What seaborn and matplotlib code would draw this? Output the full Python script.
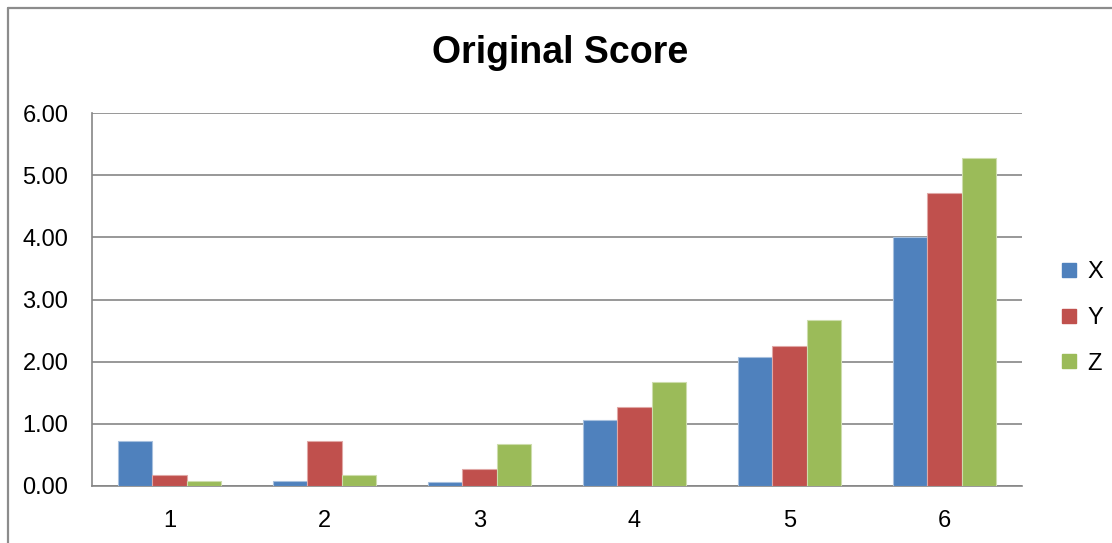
import matplotlib
matplotlib.use("Agg")
import matplotlib.pyplot as plt
from matplotlib.lines import Line2D
import seaborn as sns
import pandas as pd

categories = ["1", "2", "3", "4", "5", "6"]
series_names = ["X", "Y", "Z"]
x_values = [0.73, 0.08, 0.06, 1.06, 2.07, 4.00]
y_values = [0.18, 0.73, 0.27, 1.27, 2.26, 4.71]
z_values = [0.08, 0.18, 0.67, 1.67, 2.67, 5.28]
y_ticks = [0.0, 1.0, 2.0, 3.0, 4.0, 5.0, 6.0]
colors = ["#4F81BD", "#C0504D", "#9BBB59"]

df = pd.DataFrame({
    "category": categories * 3,
    "series": [s for s in series_names for _ in categories],
    "value": x_values + y_values + z_values,
})

sns.set_theme(style="white")
plt.rcParams["font.family"] = ["Liberation Sans", "DejaVu Sans"]
plt.rcParams["text.color"] = "black"

fig = plt.figure(figsize=(11.12, 5.43), dpi=100)
ax = fig.add_axes([92 / 1112, 1 - 486 / 543, 930 / 1112, 373 / 543])

sns.barplot(data=df, x="category", y="value", hue="series", order=categories,
            hue_order=series_names, palette=colors, width=0.67, gap=0,
            saturation=1, ax=ax, legend=False, zorder=3)

# thin light outline around each bar
for p in ax.patches:
    r, g, b, _ = p.get_facecolor()
    p.set_edgecolor((r + (1 - r) * 0.5, g + (1 - g) * 0.5, b + (1 - b) * 0.5))
    p.set_linewidth(0.8)

grid_color = "#868686"
ax.set_ylim(0, 6)
ax.set_xlim(-0.5, 5.5)
ax.set_yticks(y_ticks)
ax.set_yticklabels([f"{t:.2f}" for t in y_ticks])
ax.yaxis.grid(True, color=grid_color, linewidth=1.2, zorder=0)
ax.set_axisbelow(True)
for side in ["top", "right"]:
    ax.spines[side].set_visible(False)
for side in ["left", "bottom"]:
    ax.spines[side].set_color(grid_color)
    ax.spines[side].set_linewidth(1.2)
ax.tick_params(axis="both", length=0, labelsize=17, labelcolor="black")
ax.tick_params(axis="y", pad=17)
ax.tick_params(axis="x", pad=17)
ax.set_xlabel("")
ax.set_ylabel("")

fig.suptitle("Original Score", x=560 / 1112, y=1 - 53 / 543, va="center",
             fontsize=27, fontweight="bold", color="black")

handles = [Line2D([], [], marker="s", linestyle="none", markersize=10,
                  markerfacecolor=c, markeredgecolor=c) for c in colors]
fig.legend(handles, series_names, loc="center left",
           bbox_to_anchor=(1045 / 1112, 1 - 318 / 543), frameon=False,
           fontsize=17, handlelength=1.0, handletextpad=0.3, labelspacing=1.0,
           borderpad=0, labelcolor="black")

# outer chart frame
fig.add_artist(Line2D([7.5 / 1112, 7.5 / 1112], [0, 1 - 7.5 / 543],
                      transform=fig.transFigure, color="#8c8c8c", linewidth=1.6))
fig.add_artist(Line2D([7.5 / 1112, 1], [1 - 7.5 / 543, 1 - 7.5 / 543],
                      transform=fig.transFigure, color="#8c8c8c", linewidth=1.6))

fig.savefig("out.png", dpi=100, facecolor="white")
